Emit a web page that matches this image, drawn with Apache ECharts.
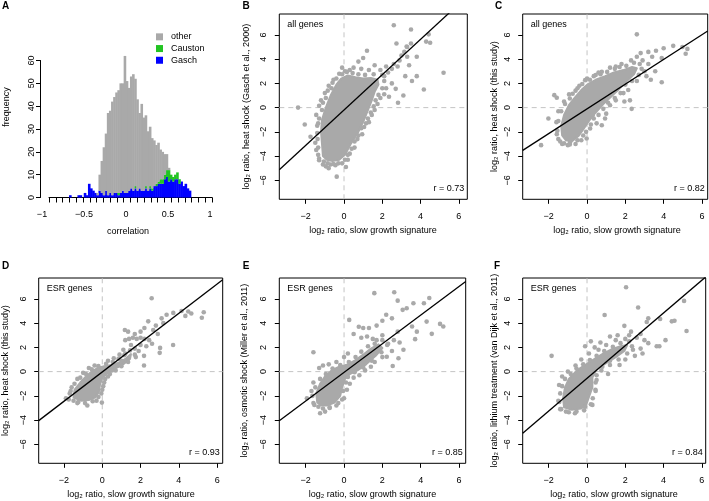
<!DOCTYPE html>
<html><head><meta charset="utf-8">
<script src="https://cdn.jsdelivr.net/npm/echarts@6/dist/echarts.min.js"></script>
<style>html,body{margin:0;padding:0;background:#fff}#c{width:709px;height:501px}</style>
</head><body><div id="c"></div>
<script>
// ---------- Panel A: histogram data ----------
const binMid = [-0.6875,-0.6625,-0.6375,-0.6125,-0.5875,-0.5625,-0.5375,-0.5125,-0.4875,-0.4625,
 -0.4375,-0.4125,-0.3875,-0.3625,-0.3375,-0.3125,-0.2875,-0.2625,-0.2375,-0.2125,
 -0.1875,-0.1625,-0.1375,-0.1125,-0.0875,-0.0625,-0.0375,-0.0125,0.0125,0.0375,
 0.0625,0.0875,0.1125,0.1375,0.1625,0.1875,0.2125,0.2375,0.2625,0.2875,
 0.3125,0.3375,0.3625,0.3875,0.4125,0.4375,0.4625,0.4875,0.5125,0.5375,
 0.5625,0.5875,0.6125,0.6375,0.6625,0.6875,0.7125,0.7375,0.7625,0.7875];
const gasch = [0,1,0,0,0,1,1,0,2,1, 6,4,3,2,1,3,2,1,3,1, 2,1,2,2,1,2,3,2,2,3,
 4,3,4,3,4,3,3,4,3,4, 3,5,5,6,6,6,8,9,7,8, 7,8,8,6,7,5,6,4,3,0];
const causton = [0,0,0,0,0,0,0,0,0,0, 0,0,0,0,0,0,0,0,0,0, 0,0,0,0,1,0,0,0,0,0,
 0,0,1,0,0,0,0,1,0,1, 1,0,1,1,2,2,2,3,5,2, 2,2,3,2,0,0,0,0,0,0];
const other = [0,0,0,0,0,0,0,0,0,0, 0,0,0,0,1,7,14,21,25,36, 36,41,42,44,45,48,47,60,49,45,
 49,51,47,40,33,38,32,31,26,26, 22,20,17,17,13,12,9,7,1,0, 0,0,0,0,0,0,0,0,0,0];
const histXLabels = [-1,-0.5,0,0.5,1];
const histTickCount = 24;

// ---------- Scatter panels ----------
const scatterXTicks = [-2,0,2,4,6];
const scatterYTicks = [-6,-4,-2,0,2,4,6];

const coreB = [[-1.1,-4.0],[-1.15,-3.0],[-1.2,-2.0],[-1.15,-1.0],[-0.95,0.0],[-0.7,1.0],[-0.4,1.9],[-0.15,2.4],[0.2,2.65],[0.6,2.5],[1.0,2.4],[1.4,2.45],[1.75,2.3],[1.8,1.9],[1.6,1.3],[1.45,0.6],[1.3,0.0],[1.05,-1.0],[0.75,-2.0],[0.35,-3.0],[0.05,-3.9],[-0.25,-4.3],[-0.6,-4.4],[-0.9,-4.3]];
const ptsB = [[-2.4,0.0],[-1.3,0.15],[-1.45,-0.6],[-1.4,-1.5],[-2.05,-1.4],[-1.75,-2.4],[-1.5,-2.9],[-1.45,-3.5],[-1.35,-3.9],[-1.3,-4.35],
 [-1.1,-4.7],[-0.95,-4.85],[-0.7,-4.7],[-0.45,-4.75],[-0.38,-5.7],[-0.1,-4.6],[0.2,-4.3],[0.3,-3.8],
 [0.55,-3.3],[0.7,-2.6],[0.95,-2.2],[1.05,-1.6],[1.3,-1.2],[1.45,-0.6],[1.6,-0.2],[1.75,0.3],[1.9,0.8],[2.1,1.1],[2.2,1.6],[2.35,0.9],[2.82,0.4],[3.1,1.0],[2.7,1.55],[2.5,2.0],[4.17,1.5],[3.8,2.6],[3.55,2.2],[3.2,2.6],
 [2.1,2.6],[2.3,2.9],[2.5,3.2],[2.6,3.6],[2.8,3.4],[2.9,3.9],[3.0,4.3],[3.15,4.6],[3.3,4.2],[3.4,3.5],[3.3,5.0],[3.5,5.3],[2.74,5.3],[3.27,5.05],[2.6,6.8],[3.5,6.45],[4.42,6.05],[4.29,5.45],[4.5,5.36],[3.8,4.2],[5.2,2.88],[2.2,3.4],[1.9,3.1],
 [1.6,3.5],[1.2,4.7],[1.0,4.1],[0.75,3.8],[0.5,3.3],[0.3,3.1],[0.05,3.0],[-0.25,2.8],[-0.55,2.3],[-0.8,1.8],[-1.0,1.2],[-1.2,0.6],[-0.1,3.3],[1.3,3.1],[0.9,3.2],
 [-1.3,-4.2],[-1.35,-3.3],[-1.38,-2.6],[-1.4,-2.1],[-1.35,-1.3],[-1.3,-0.9],[-1.15,-0.2],[-1.1,0.4],[-0.95,0.8],[-0.85,1.4],[-0.65,1.6],[-0.6,2.05],[-0.4,2.4],[-0.1,2.75],[0.15,2.95],[0.45,2.85],[0.75,2.75],[1.1,2.7],[1.55,2.75],[2.0,2.7],[2.1,2.2],[2.0,1.6],[1.8,1.05],[1.65,0.6],[1.55,0.1],[1.4,-0.4],[1.25,-0.9],[1.15,-1.3],[0.9,-1.7],[0.75,-2.3],[0.55,-2.8],[0.4,-3.4],[0.2,-3.9],[0.05,-4.3],[-0.3,-4.6],[-0.55,-4.65],[-0.85,-4.6],[-1.05,-4.45],[-0.8,-5.0],[0.1,-4.9]];

const coreC = [[-1.3,-2.3],[-1.35,-1.5],[-1.2,-0.6],[-0.95,0.2],[-0.65,0.8],[-0.3,1.45],[0.05,1.95],[0.45,2.3],[0.95,2.6],[1.4,2.9],[1.9,3.1],[2.35,3.35],[2.6,3.25],[2.45,2.75],[2.05,2.15],[1.65,1.5],[1.25,0.9],[0.85,0.3],[0.45,-0.4],[0.1,-1.1],[-0.2,-1.8],[-0.45,-2.35],[-0.8,-2.8],[-1.1,-2.7]];
const ptsC = [[-2.4,-3.1],[-2.02,-0.9],[-1.71,1.03],[-1.58,0.81],[-0.94,1.09],[-1.58,-2.19],[-0.89,-2.9],[-0.02,-2.55],[0.16,-1.72],[0.77,-1.45],[0.94,-0.9],[-1.3,-3.0],[-0.6,-3.0],[-1.6,-1.2],[-1.5,-0.3],[-1.2,0.5],[-0.6,1.4],[-0.1,2.27],[0.45,2.69],[0.77,2.96],[1.2,3.3],[0.3,-0.6],[1.2,0.2],[1.5,0.6],[1.95,0.5],[2.24,0.6],[2.33,-0.1],[2.15,1.45],[1.9,1.2],[2.6,2.2],[3.33,2.3],[3.9,2.1],[3.56,3.0],[3.0,3.0],[3.2,3.6],[2.9,3.9],[3.2,4.6],[3.6,4.7],[4.0,4.9],[4.5,5.1],[4.98,5.0],[5.24,4.85],[5.15,4.45],[3.9,4.1],[3.4,4.2],[2.6,6.05],[2.6,4.2],[2.3,3.9],[1.8,3.6],[1.5,3.4],[2.8,4.5],[3.1,2.6],[0.6,2.9],[0.0,2.4],[-0.4,1.8],[1.0,-0.5],[0.5,-1.3],[-0.3,-2.7],[-1.0,-3.1],
 [-1.5,-2.6],[-1.55,-1.9],[-1.5,-1.1],[-1.35,-0.3],[-1.15,0.3],[-0.9,0.75],[-0.75,1.15],[-0.5,1.6],[-0.25,1.95],[0.15,2.3],[0.35,2.6],[0.7,2.75],[1.05,2.95],[1.45,3.2],[1.7,3.35],[2.05,3.45],[2.45,3.7],[2.75,3.6],[2.85,3.2],[2.7,2.7],[2.35,2.2],[2.0,1.9],[1.75,1.2],[1.45,0.8],[1.1,0.4],[0.85,-0.1],[0.6,-0.6],[0.35,-0.9],[0.2,-1.4],[-0.05,-2.0],[-0.2,-2.3],[-0.5,-2.7],[-0.9,-3.05],[-1.2,-2.95],[-1.4,-2.8]];

const coreD = [[-1.5,-2.15],[-1.45,-1.5],[-1.15,-0.9],[-0.85,-0.4],[-0.55,0.0],[-0.25,0.3],[0.1,0.45],[0.5,0.55],[0.9,0.75],[1.25,1.1],[1.5,1.45],[1.45,1.05],[1.05,0.55],[0.6,0.2],[0.3,-0.1],[0.0,-0.5],[-0.12,-1.1],[-0.18,-1.7],[-0.38,-2.15],[-0.7,-2.35],[-1.1,-2.4]];
const ptsD = [[-1.9,-2.2],[-1.7,-1.8],[-1.6,-1.3],[-1.3,-0.6],[-1.0,-0.1],[-0.7,0.3],[-0.4,0.5],[-0.78,-2.8],[-0.02,-2.56],[-0.3,-2.4],[-1.3,-2.6],[0.0,-1.5],[0.1,-0.9],[0.3,-0.4],[0.5,0.1],[0.3,0.9],[0.6,1.1],[0.9,1.4],[1.0,0.9],[1.1,1.8],[1.2,2.6],[1.4,2.7],[1.6,2.8],[1.8,2.7],[2.0,2.8],[2.2,2.7],[2.45,2.6],[1.18,3.44],[1.35,3.3],[1.7,3.1],[2.0,3.3],[2.2,3.6],[2.4,4.15],[2.66,3.44],[2.8,3.8],[2.18,0.5],[2.18,1.3],[1.9,1.7],[2.3,2.1],[2.6,2.3],[3.02,1.96],[3.0,1.55],[3.7,2.2],[2.9,3.1],[3.1,4.4],[3.36,4.7],[3.71,4.85],[4.14,5.0],[4.49,4.96],[4.65,4.8],[5.3,4.9],[5.2,4.45],[4.34,4.6],[3.19,4.0],[2.58,6.06],[1.5,2.2],[1.2,1.5],[0.8,0.5],[1.7,1.4],[2.0,2.2],
 [-1.75,-2.3],[-1.65,-1.6],[-1.45,-1.0],[-1.15,-0.5],[-0.85,-0.2],[-0.55,0.2],[-0.2,0.45],[0.2,0.65],[0.55,0.8],[0.85,1.05],[1.15,1.35],[1.45,1.75],[1.7,1.9],[1.75,1.2],[1.35,0.8],[1.0,0.45],[0.7,0.1],[0.4,-0.2],[0.15,-0.6],[0.05,-1.2],[-0.05,-1.8],[-0.2,-2.1],[-0.5,-2.45],[-0.9,-2.6],[-1.25,-2.5],[-1.5,-2.4]];

const coreE = [[-1.4,-2.55],[-1.45,-1.8],[-1.25,-1.0],[-1.0,-0.4],[-0.65,0.1],[-0.25,0.4],[0.2,0.6],[0.6,0.95],[1.0,1.4],[1.4,1.9],[1.8,2.25],[2.0,1.95],[1.65,1.3],[1.15,0.6],[0.7,0.1],[0.3,-0.2],[0.05,-0.6],[-0.1,-1.3],[-0.2,-2.0],[-0.5,-2.55],[-0.9,-2.8],[-1.2,-2.8]];
const ptsE = [[-1.6,1.6],[-1.3,0.3],[-1.1,0.5],[-0.8,0.6],[-0.4,0.8],[-1.6,-0.9],[-1.7,-1.6],[-1.94,-2.2],[-1.6,-2.6],[-1.34,-2.9],[-1.25,-3.44],[-0.99,-3.3],[-0.75,-3.0],[-0.3,-2.6],[0.0,-2.2],[0.15,-1.5],[0.3,-1.0],[0.5,-0.5],[0.8,-0.3],[1.1,0.1],[1.4,0.4],[1.6,0.8],[2.0,1.2],[2.23,1.23],[2.54,0.47],[2.84,1.1],[3.1,1.8],[2.5,1.7],[2.3,2.3],[2.6,2.6],[3.71,2.68],[3.8,3.3],[3.55,3.72],[4.58,3.12],[5.01,3.94],[5.18,3.72],[4.31,4.13],[3.06,5.1],[3.27,5.23],[3.62,5.65],[4.17,5.65],[4.45,6.08],[2.8,5.86],[2.62,6.55],[1.58,6.48],[2.2,4.7],[2.5,4.4],[2.0,4.2],[1.7,3.8],[1.3,3.6],[1.0,3.6],[0.77,3.7],[0.27,4.27],[0.5,3.1],[0.9,2.8],[1.2,2.9],[1.5,2.7],[2.0,3.0],[2.8,3.3],[0.2,1.5],[0.0,1.2],[1.7,2.6],[2.9,2.4],
 [-1.55,-2.75],[-1.65,-2.0],[-1.5,-1.3],[-1.25,-0.6],[-0.95,-0.2],[-0.6,0.25],[-0.2,0.55],[0.25,0.8],[0.6,1.2],[0.9,1.65],[1.25,2.1],[1.6,2.3],[2.0,2.6],[2.25,2.2],[1.95,1.6],[1.45,0.9],[1.0,0.35],[0.55,-0.05],[0.2,-0.45],[0.1,-0.9],[-0.05,-1.6],[-0.1,-2.3],[-0.4,-2.8],[-0.75,-2.95],[-1.1,-3.05]];

const coreF = [[-1.2,-2.95],[-1.25,-2.2],[-1.15,-1.3],[-0.95,-0.6],[-0.65,-0.1],[-0.35,0.3],[0.0,0.65],[0.4,1.05],[0.8,1.45],[1.3,1.85],[1.75,2.1],[2.1,2.2],[1.95,1.7],[1.5,1.2],[1.0,0.7],[0.5,0.2],[0.28,-0.5],[0.28,-1.3],[0.12,-2.0],[-0.02,-2.65],[-0.3,-3.05],[-0.8,-3.15]];
const ptsF = [[-1.85,1.3],[-1.5,-2.4],[-1.46,-1.1],[-1.4,-3.1],[-1.1,-3.3],[-0.63,-3.44],[-0.1,-2.9],[0.28,-2.75],[0.44,-1.5],[0.5,-0.7],[1.1,-0.2],[0.8,0.4],[1.2,0.9],[1.7,0.55],[2.0,1.0],[2.5,1.3],[2.4,1.8],[2.8,1.9],[3.2,2.35],[3.64,2.1],[3.78,2.1],[4.1,2.6],[5.2,3.35],[4.43,4.15],[4.57,4.2],[3.82,4.35],[5.07,5.84],[3.2,4.4],[3.12,4.1],[2.67,5.3],[2.04,6.97],[0.92,4.68],[1.95,3.78],[2.3,3.3],[2.6,2.8],[2.8,3.1],[1.6,3.0],[1.2,2.9],[0.7,2.4],[0.4,2.0],[0.1,1.5],[-0.3,1.0],[-0.6,0.5],[-1.0,0.0],[-1.3,-0.4],[1.5,2.6],[2.0,2.7],[2.2,3.0],[1.0,2.2],[0.2,2.5],[-0.1,2.1],[0.6,1.8],[3.0,2.6],[2.9,1.5],
 [-1.35,-3.1],[-1.45,-2.5],[-1.4,-1.8],[-1.3,-1.2],[-1.15,-0.6],[-0.85,-0.2],[-0.55,0.25],[-0.2,0.6],[0.15,0.95],[0.5,1.3],[0.9,1.7],[1.35,2.05],[1.75,2.35],[2.2,2.5],[2.35,2.1],[2.1,1.5],[1.65,1.0],[1.2,0.55],[0.75,0.1],[0.5,-0.3],[0.45,-0.9],[0.45,-1.6],[0.3,-2.2],[0.2,-2.7],[-0.15,-3.2],[-0.55,-3.3],[-0.95,-3.35]];

const fitSlope = [1.46, 1.02, 1.21, 1.18, 1.35];
const fitIntercept = [-0.2, -0.1, -0.03, -0.06, -0.55];
const rValues = ['0.73','0.82','0.93','0.85','0.84'];
const subsetLabels = ['all genes','all genes','ESR genes','ESR genes','ESR genes'];
const yTitles = ['heat shock (Gasch et al., 2000)','heat shock (this study)','heat shock (this study)','osmotic shock (Miller et al., 2011)','lithium treatment (van Dijk et al., 2011)'];
const xTitle = 'log\u2082 ratio, slow growth signature';

// ---------- layout ----------
const FONT = 'Liberation Sans, Arial, Helvetica, sans-serif';
const PT = '#a9a9a9';
const panels = [
 {L:'B', left:279.3, top:14,  width:188,   xmin:-3.38, xmax:6.44, core:coreB, pts:ptsB, letter:[246,6.5],   yt:247,  xt:[373,230.5]},
 {L:'C', left:522.7, top:14,  width:185,   xmin:-3.36, xmax:6.30, core:coreC, pts:ptsC, letter:[498.5,6.5], yt:495,  xt:[617,230.5]},
 {L:'D', left:38.7,  top:278, width:184,   xmin:-3.32, xmax:6.29, core:coreD, pts:ptsD, letter:[5.5,266],   yt:5.5,  xt:[131,494.5]},
 {L:'E', left:279.3, top:278, width:186.4, xmin:-3.38, xmax:6.35, core:coreE, pts:ptsE, letter:[246,266],   yt:245,  xt:[372.5,494.5]},
 {L:'F', left:522.7, top:278, width:183,   xmin:-3.36, xmax:6.20, core:coreF, pts:ptsF, letter:[497,266],   yt:495,  xt:[614,494.5]}
];
const PH = 185.3, YMIN = -7.57, YMAX = 7.73;
const HPX = 137/60; // px per count in panel A

function numFmt(v){ return (v<0?'\u2212':'') + String(Math.abs(v)); }

const grid = [], xAxis = [], yAxis = [], series = [], graphic = [];

// Panel A axes grid (value axis for labels)
grid.push({left:40.5, top:60.5, width:172, height:137, show:false});
xAxis.push({type:'value', gridIndex:0, min:(40.5-126)/84, max:(212.5-126)/84,
  axisLine:{show:false, onZero:false}, axisTick:{show:false}, splitLine:{show:false},
  axisLabel:{customValues:histXLabels, formatter:numFmt, fontSize:9, color:'#000', fontFamily:FONT, margin:13}});
yAxis.push({type:'value', gridIndex:0, min:0, max:60, interval:10,
  axisLine:{show:true, onZero:false, lineStyle:{color:'#000', width:1}},
  axisTick:{show:true, length:4.5, lineStyle:{color:'#000'}},
  splitLine:{show:false},
  axisLabel:{rotate:90, fontSize:9, color:'#000', fontFamily:FONT, margin:4}});
// tick axis of the histogram
grid.push({left:49, top:190, width:163, height:7.5, show:false});
xAxis.push({type:'value', gridIndex:1, min:0, max:histTickCount, interval:1,
  axisLine:{show:true, onZero:false, lineStyle:{color:'#000', width:1}},
  axisTick:{show:true, length:5, lineStyle:{color:'#000'}},
  axisLabel:{show:false}, splitLine:{show:false}});
yAxis.push({type:'value', gridIndex:1, show:false, min:0, max:1, axisLine:{onZero:false}});
// bins grid: category axis, bins -0.7 .. 0.8 (0.025 wide, 84 px per unit), counts 0..70
grid.push({left:126 - 0.7*84, top:197.5 - 70*HPX, width:1.5*84, height:70*HPX, show:false});
xAxis.push({type:'category', gridIndex:2, data:binMid.map(String), boundaryGap:true, show:false, axisLine:{onZero:false}});
yAxis.push({type:'value', gridIndex:2, min:0, max:70, show:false, axisLine:{onZero:false}});

const histSeries = [['Gasch', gasch, '#0000ff'], ['Causton', causton, '#22c422'], ['other', other, '#a9a9a9']];
histSeries.forEach(([name, arr, col]) => {
  series.push({type:'bar', name, xAxisIndex:2, yAxisIndex:2, stack:'h', barWidth:2.6,
    itemStyle:{color:col, borderWidth:0}, data: arr.slice(), silent:true, animation:false});
});

graphic.push({type:'text', left:2, top:1, style:{text:'A', font:'bold 10px '+FONT, fill:'#000'}});
graphic.push({type:'text', x:7, y:107, rotation:Math.PI/2, style:{text:'frequency', font:'9px '+FONT, fill:'#000', textAlign:'center', textVerticalAlign:'middle'}});
graphic.push({type:'text', x:128, y:232, style:{text:'correlation', font:'9px '+FONT, fill:'#000', textAlign:'center', textVerticalAlign:'middle'}});

panels.forEach((p, k) => {
  const gi = k + 3;
  grid.push({left:p.left, top:p.top, width:p.width, height:PH, show:true, borderColor:'#000', borderWidth:1, backgroundColor:'transparent'});
  xAxis.push({type:'value', gridIndex:gi, min:p.xmin, max:p.xmax,
    axisLine:{show:false, onZero:false}, splitLine:{show:false},
    axisTick:{show:true, length:4.5, lineStyle:{color:'#000'}, customValues:scatterXTicks},
    axisLabel:{customValues:scatterXTicks, formatter:numFmt, fontSize:9, color:'#000', fontFamily:FONT, margin:13}});
  yAxis.push({type:'value', gridIndex:gi, min:YMIN, max:YMAX,
    axisLine:{show:false, onZero:false}, splitLine:{show:false},
    axisTick:{show:true, length:4.5, lineStyle:{color:'#000'}, customValues:scatterYTicks},
    axisLabel:{customValues:scatterYTicks, formatter:numFmt, rotate:90, fontSize:9, color:'#000', fontFamily:FONT, margin:11}});
  const dash = {color:'#c4c4c4', width:1, type:[5,4]};
  series.push({type:'line', xAxisIndex:gi, yAxisIndex:gi, data:[[0,YMIN],[0,YMAX]], symbol:'none', lineStyle:dash, z:1, silent:true, animation:false});
  series.push({type:'line', xAxisIndex:gi, yAxisIndex:gi, data:[[p.xmin,0],[p.xmax,0]], symbol:'none', lineStyle:dash, z:1, silent:true, animation:false});
  const core = p.core;
  series.push({type:'custom', xAxisIndex:gi, yAxisIndex:gi, data:[[0,0]], clip:true, z:2, silent:true, animation:false,
    renderItem:(params, api) => ({type:'polygon', shape:{points: core.map(c => api.coord(c))},
      style:{fill:PT, stroke:PT, lineWidth:2, lineJoin:'round'}})});
  series.push({type:'scatter', xAxisIndex:gi, yAxisIndex:gi, data:p.pts, symbolSize:4.6, itemStyle:{color:PT, opacity:1}, z:3, silent:true, animation:false});
  const a = fitIntercept[k], b = fitSlope[k];
  series.push({type:'line', xAxisIndex:gi, yAxisIndex:gi, data:[[p.xmin, a + b*p.xmin],[p.xmax, a + b*p.xmax]], symbol:'none', clip:true,
    lineStyle:{color:'#000', width:1.3}, z:4, silent:true, animation:false});
  graphic.push({type:'text', x:p.letter[0], y:p.letter[1], style:{text:p.L, font:'bold 10px '+FONT, fill:'#000', textAlign:'center', textVerticalAlign:'middle'}});
  graphic.push({type:'text', x:p.left+8, y:p.top+11, style:{text:subsetLabels[k], font:'9px '+FONT, fill:'#000', textAlign:'left', textVerticalAlign:'middle'}});
  graphic.push({type:'text', x:p.left+p.width-3, y:p.top+PH-11, style:{text:'r = '+rValues[k], font:'9px '+FONT, fill:'#000', textAlign:'right', textVerticalAlign:'middle'}});
  graphic.push({type:'text', x:p.xt[0], y:p.xt[1], style:{text:xTitle, font:'9px '+FONT, fill:'#000', textAlign:'center', textVerticalAlign:'middle'}});
  graphic.push({type:'text', x:p.yt, y:p.top+PH/2, rotation:Math.PI/2, style:{text:'log\u2082 ratio, '+yTitles[k], font:'9px '+FONT, fill:'#000', textAlign:'center', textVerticalAlign:'middle'}});
});

const chart = echarts.init(document.getElementById('c'), null, {renderer:'canvas'});
chart.setOption({
  animation:false,
  backgroundColor:'#fff',
  textStyle:{fontFamily:FONT},
  grid, xAxis, yAxis, series, graphic,
  legend:{show:true, orient:'vertical', left:156, top:31, padding:0, itemGap:0, itemWidth:7, itemHeight:7, icon:'rect',
    data:['other','Causton','Gasch'], selectedMode:false,
    textStyle:{fontSize:9, color:'#000', fontFamily:FONT, lineHeight:11.7, padding:[0,0,0,3]}}
});
</script></body></html>
